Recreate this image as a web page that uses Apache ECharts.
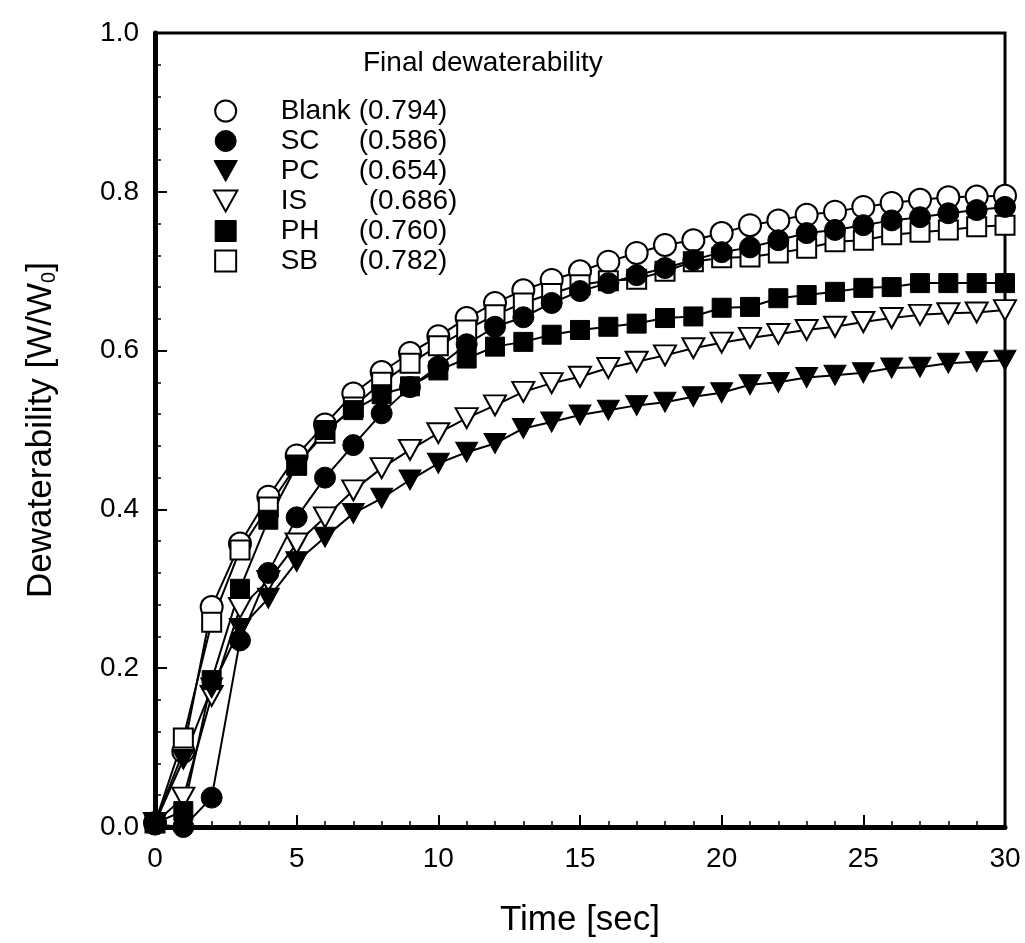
<!DOCTYPE html>
<html>
<head>
<meta charset="utf-8">
<script src="https://cdn.jsdelivr.net/npm/echarts@6/dist/echarts.min.js"></script>
<style>
  html, body { margin: 0; padding: 0; background: #fff; }
  #main { width: 1025px; height: 943px; }
</style>
</head>
<body>
<div id="main"></div>
<script>
// time axis, one point per second
const time = [0,1,2,3,4,5,6,7,8,9,10,11,12,13,14,15,16,17,18,19,20,21,22,23,24,25,26,27,28,29,30];

// values (W/W0)
const blank = [0.005,0.095,0.277,0.357,0.416,0.468,0.507,0.546,0.573,0.597,0.618,0.641,0.66,0.676,0.689,0.70,0.712,0.723,0.733,0.739,0.748,0.758,0.764,0.771,0.775,0.781,0.786,0.790,0.793,0.794,0.795];
const sc    = [0.003,0.0,0.037,0.235,0.32,0.39,0.44,0.481,0.521,0.554,0.58,0.608,0.63,0.642,0.66,0.675,0.685,0.695,0.704,0.714,0.724,0.73,0.739,0.748,0.752,0.758,0.764,0.768,0.773,0.777,0.781];
const pc    = [0.005,0.085,0.175,0.25,0.288,0.334,0.365,0.395,0.414,0.437,0.458,0.472,0.483,0.502,0.51,0.519,0.525,0.531,0.535,0.542,0.547,0.557,0.56,0.566,0.569,0.572,0.578,0.579,0.584,0.586,0.588];
const is    = [0.005,0.037,0.165,0.276,0.31,0.357,0.39,0.424,0.452,0.475,0.496,0.515,0.531,0.548,0.559,0.567,0.578,0.586,0.594,0.603,0.61,0.616,0.621,0.626,0.63,0.636,0.641,0.645,0.647,0.648,0.651];
const ph    = [0.005,0.02,0.185,0.30,0.387,0.455,0.50,0.525,0.545,0.555,0.575,0.59,0.605,0.611,0.62,0.626,0.63,0.634,0.641,0.643,0.654,0.655,0.666,0.67,0.674,0.679,0.68,0.685,0.685,0.685,0.685];
const sb    = [0.005,0.112,0.258,0.349,0.403,0.456,0.496,0.529,0.56,0.584,0.606,0.626,0.645,0.66,0.672,0.683,0.688,0.69,0.70,0.712,0.717,0.718,0.723,0.729,0.737,0.739,0.746,0.749,0.752,0.756,0.758];

// legend
const legendNames = ['Blank','SC','PC','IS','PH','SB'];
const finalValues = [0.794,0.586,0.654,0.686,0.760,0.782];

const FONT = '"Liberation Sans", Arial, sans-serif';
const tri = 'path://M0,0L20,0L10,18Z';
const sq = 'path://M0,0L10,0L10,10L0,10Z';

const open = {color: '#fff', borderColor: '#000', borderWidth: 2};
const filled = {color: '#000', borderColor: '#000', borderWidth: 1};

function pts(arr) {
    return time.map((t, i) => [t, arr[i]]);
}

function line(name, arr, symbol, size, style) {
    return {
        name: name,
        type: 'line',
        data: pts(arr),
        symbol: symbol,
        symbolSize: size,
        showAllSymbol: true,
        itemStyle: style,
        lineStyle: {color: '#000', width: 2},
        emphasis: {disabled: true}
    };
}

const symbols = {
    Blank: ['circle', 22, open],
    SC: ['circle', 21, filled],
    PC: [tri, [22, 20], filled],
    IS: [tri, [22, 20], open],
    PH: [sq, 19, filled],
    SB: [sq, 19, open]
};

let chart = echarts.init(document.getElementById('main'));
chart.setOption({
    animation: false,
    backgroundColor: '#fff',
    title: {
        text: 'Final dewaterability',
        left: 358,
        top: 44,
        textStyle: {fontFamily: FONT, fontSize: 28, fontWeight: 'normal', color: '#000'}
    },
    legend: {
        orient: 'vertical',
        left: 213,
        top: 97,
        padding: 0,
        itemGap: 2,
        itemWidth: 100,
        itemHeight: 21,
        selectedMode: false,
        symbolKeepAspect: true,
        data: legendNames.map(n => ({
            name: n,
            icon: symbols[n][0],
            itemStyle: symbols[n][2]
        })),
        formatter: function (name) {
            let v = '(' + finalValues[legendNames.indexOf(name)].toFixed(3) + ')';
            return (name === 'IS' ? '{m|' : '{n|') + name + '}{v|' + v + '}';
        },
        textStyle: {
            fontFamily: FONT, fontSize: 28, color: '#000',
            rich: {
                n: {fontFamily: FONT, fontSize: 28, width: 78, lineHeight: 30, color: '#000'},
                m: {fontFamily: FONT, fontSize: 28, width: 88, lineHeight: 30, color: '#000'},
                v: {fontFamily: FONT, fontSize: 28, lineHeight: 30, color: '#000'}
            }
        }
    },
    grid: {
        left: 155, right: 20, top: 33, bottom: 116,
        show: true, borderColor: '#000', borderWidth: 3
    },
    xAxis: {
        type: 'value',
        min: 0, max: 30, interval: 5,
        name: 'Time [sec]',
        nameLocation: 'middle',
        nameGap: 76,
        nameTextStyle: {fontFamily: FONT, fontSize: 35, color: '#000'},
        axisLine: {lineStyle: {color: '#000', width: 5}},
        axisTick: {inside: true, length: 12, lineStyle: {color: '#000', width: 2}},
        minorTick: {show: true, splitNumber: 5, length: 6, lineStyle: {color: '#000', width: 1.5}},
        splitLine: {show: false},
        axisLabel: {fontFamily: FONT, fontSize: 28, color: '#000', margin: 18}
    },
    yAxis: {
        type: 'value',
        min: 0, max: 1, interval: 0.2,
        name: 'Dewaterability [W/W{sub|0}]',
        nameLocation: 'middle',
        nameGap: 96,
        nameTextStyle: {
            fontFamily: FONT, fontSize: 35, color: '#000',
            rich: {
                sub: {fontFamily: FONT, fontSize: 20, color: '#000', verticalAlign: 'bottom', padding: [14, 0, 0, 0]}
            }
        },
        axisLine: {lineStyle: {color: '#000', width: 5}},
        axisTick: {inside: true, length: 12, lineStyle: {color: '#000', width: 2}},
        minorTick: {show: true, splitNumber: 5, length: 6, lineStyle: {color: '#000', width: 1.5}},
        splitLine: {show: false},
        axisLabel: {
            fontFamily: FONT, fontSize: 28, color: '#000', margin: 16,
            formatter: v => v.toFixed(1)
        }
    },
    // drawing order: open shapes first, filled on top
    series: [
        line('Blank', blank, ...symbols.Blank),
        line('SB', sb, ...symbols.SB),
        line('IS', is, ...symbols.IS),
        line('PC', pc, ...symbols.PC),
        line('PH', ph, ...symbols.PH),
        line('SC', sc, ...symbols.SC)
    ]
});
</script>
</body>
</html>
